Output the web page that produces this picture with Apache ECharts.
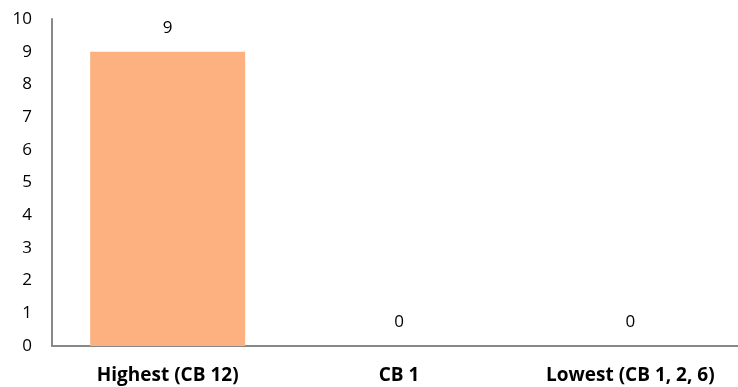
<!DOCTYPE html>
<html><head><meta charset="utf-8">
<script src="https://cdn.jsdelivr.net/npm/echarts@6/dist/echarts.min.js"></script>
<style>html,body{margin:0;padding:0;background:#fff;overflow:hidden}#c{width:746px;height:387px}</style>
</head><body><div id="c"></div>
<script>
const categories = ["Highest (CB 12)", "CB 1", "Lowest (CB 1, 2, 6)"];
const values = [9, 0, 0];
const yTicks = {min: 0, max: 10, interval: 1};

const chart = echarts.init(document.getElementById('c'));
chart.setOption({
  animation: false,
  grid: {left: 52, top: 19, right: 0, bottom: 41, containLabel: false},
  xAxis: {
    type: 'category', data: categories,
    axisLine: {lineStyle: {color: '#888', width: 2}},
    axisTick: {show: false},
    axisLabel: {color: '#000', fontWeight: 'bold', fontSize: 19, margin: 20, fontFamily: 'Open Sans', interval: 0}
  },
  yAxis: {
    type: 'value', min: yTicks.min, max: yTicks.max, interval: yTicks.interval,
    axisLine: {show: true, lineStyle: {color: '#888', width: 2}},
    axisTick: {show: false},
    splitLine: {show: false},
    axisLabel: {color: '#000', fontSize: 17, margin: 20, fontFamily: 'Open Sans'}
  },
  series: [{
    type: 'bar', data: values, barWidth: '67%',
    itemStyle: {color: '#FDB180'},
    label: {show: true, position: 'top', distance: 15, color: '#000', fontSize: 17, fontFamily: 'Open Sans'}
  }]
});
</script></body></html>
